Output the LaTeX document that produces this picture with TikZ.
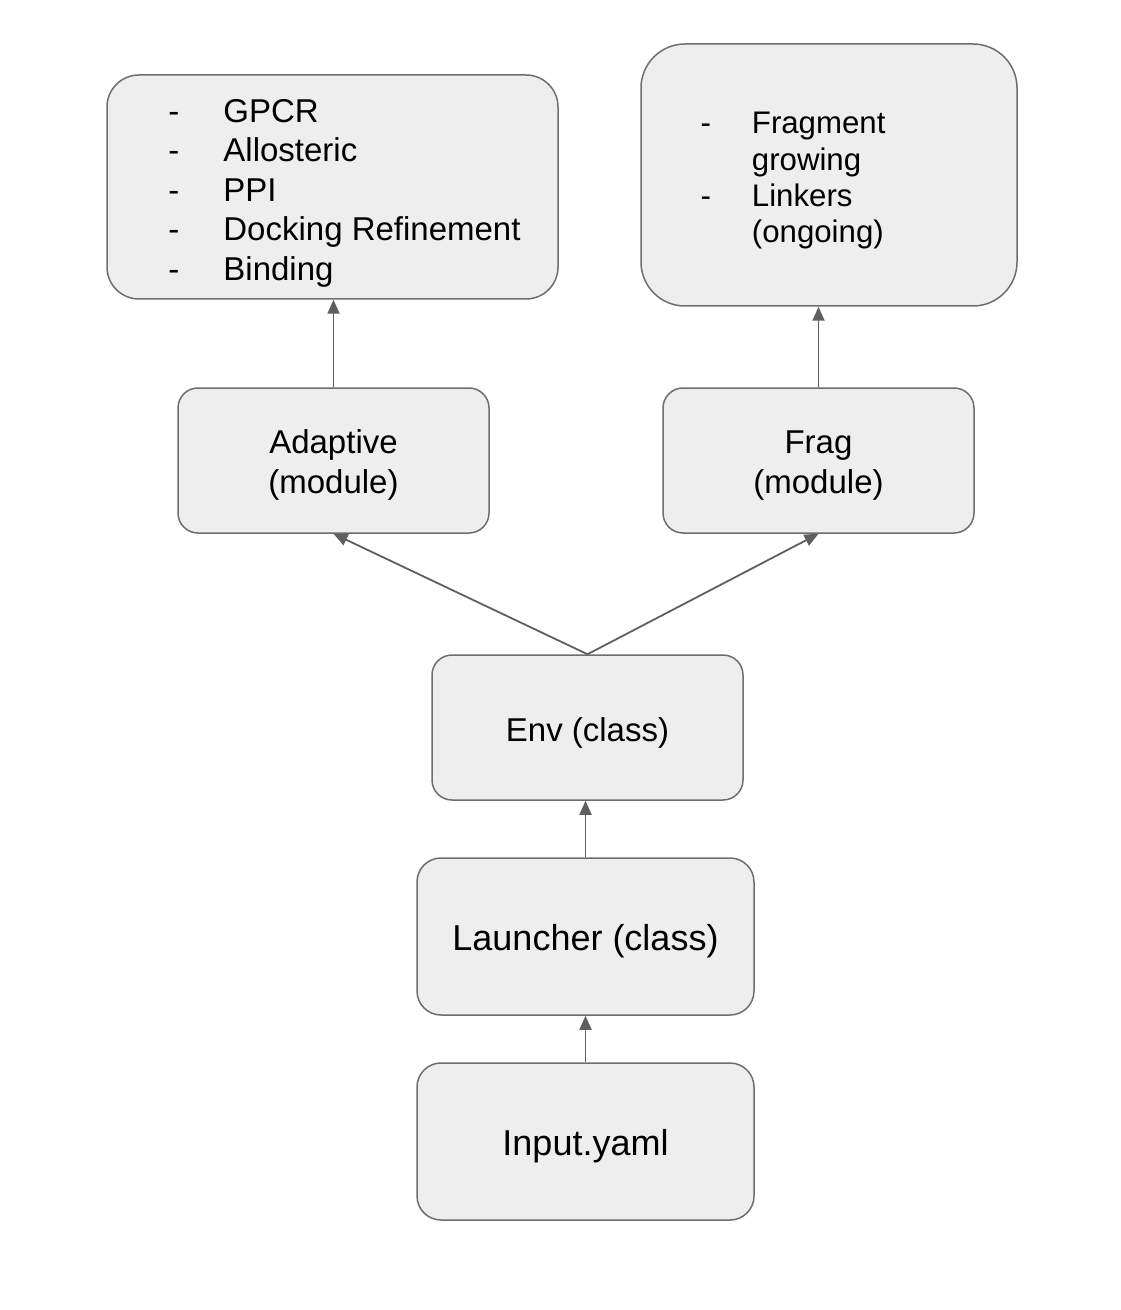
\documentclass[tikz,border=0pt]{standalone}
\usepackage{fontspec}
\setmainfont{Liberation Sans}
\usetikzlibrary{arrows.meta, positioning}

\definecolor{boxfill}{HTML}{EEEEEE}
\definecolor{boxline}{HTML}{6E6E6E}
\definecolor{arrowgray}{HTML}{5F5F5F}

% move the text down a little, keeping its box
\newcommand{\lowtext}[2][2.5pt]{\raisebox{-#1}[\height][\depth]{#2}}

\begin{document}
\begin{tikzpicture}[
    x=0.5pt, y=-0.5pt,
    box/.style={rectangle, draw=boxline, line width=0.75pt, fill=boxfill, rounded corners=10pt, inner sep=0pt, font=\fontsize{16.5}{20}\selectfont},
    smallbox/.style={box, minimum width=155.5pt, minimum height=72.5pt},
    bigbox/.style={box, minimum width=168.5pt, minimum height=78.5pt, rounded corners=12pt, font=\fontsize{18}{21}\selectfont},
    arrow/.style={-{Triangle[length=7pt, width=6pt]}, line width=0.9pt, draw=arrowgray, fill=arrowgray}
]
\useasboundingbox (0,0) rectangle (1120,1310);

% result lists
\node[box, minimum width=225.5pt, minimum height=112pt, rounded corners=16pt, font=\fontsize{16.5}{19.75}\selectfont] (targets) at (332.5,187)
    {\lowtext[3.25pt]{\begin{tabular}{@{\hspace{12pt}}l@{\hspace{22pt}}l@{}}
     - & GPCR\\ - & Allosteric\\ - & PPI\\ - & Docking Refinement\\ - & Binding
     \end{tabular}}};
\node[box, minimum width=188pt, minimum height=131pt, rounded corners=22pt, font=\fontsize{15.6}{18.2}\selectfont] (fraglist) at (829,175)
    {\lowtext[3pt]{\begin{tabular}{@{}l@{\hspace{20.5pt}}l@{\hspace{36pt}}}
     - & Fragment\\ & growing\\ - & Linkers\\ & (ongoing)
     \end{tabular}}};

% modules
\node[smallbox] (adaptive) at (333.5,460.5) {\lowtext{\begin{tabular}{@{}c@{}}Adaptive\\(module)\end{tabular}}};
\node[smallbox] (frag) at (818.5,460.5) {\lowtext{\begin{tabular}{@{}c@{}}Frag\\(module)\end{tabular}}};

% classes
\node[smallbox] (env) at (587.5,727.5) {\lowtext{Env (class)}};
\node[bigbox] (launcher) at (585.5,936.5) {\lowtext{Launcher (class)}};
\node[bigbox] (input) at (585.5,1141.5) {\lowtext{Input.yaml}};

\draw[arrow] (input) -- (launcher);
\draw[arrow] (launcher.north) -- (launcher.north |- env.south);
\draw[arrow] (env.north) -- (adaptive.south);
\draw[arrow] (env.north) -- (frag.south);
\draw[arrow] (adaptive.north) -- (adaptive.north |- targets.south);
\draw[arrow] (frag.north) -- (frag.north |- fraglist.south);

\end{tikzpicture}
\end{document}
